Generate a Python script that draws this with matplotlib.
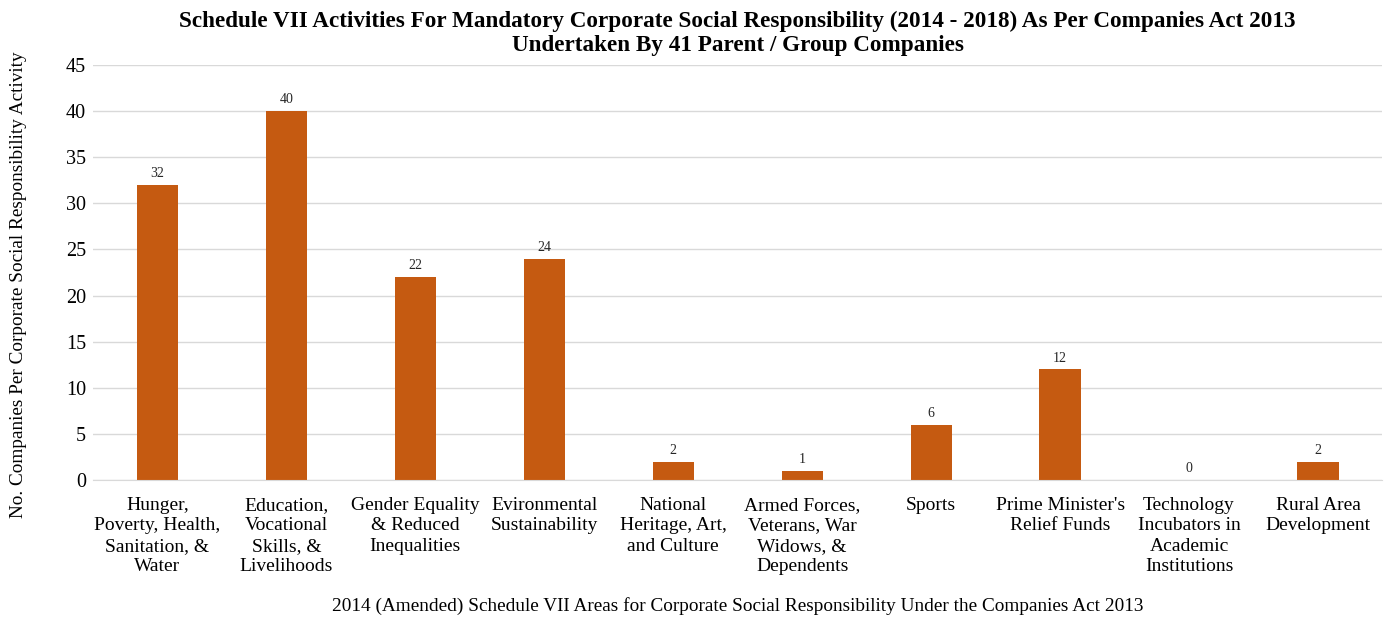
import matplotlib.pyplot as plt

# Schedule VII areas and the number of companies per activity
categories = [
    "Hunger,\nPoverty, Health,\nSanitation, &\nWater",
    "Education,\nVocational\nSkills, &\nLivelihoods",
    "Gender Equality\n& Reduced\nInequalities",
    "Evironmental\nSustainability",
    "National\nHeritage, Art,\nand Culture",
    "Armed Forces,\nVeterans, War\nWidows, &\nDependents",
    "Sports",
    "Prime Minister's\nRelief Funds",
    "Technology\nIncubators in\nAcademic\nInstitutions",
    "Rural Area\nDevelopment",
]
counts = [32, 40, 22, 24, 2, 1, 6, 12, 0, 2]
yticks = list(range(0, 50, 5))

plt.rcParams['font.family'] = ['Liberation Serif', 'DejaVu Serif']

fig = plt.figure(figsize=(13.88, 6.19), dpi=100)
ax = fig.add_axes([0.067, 0.2246, 0.929, 0.6704])

x = list(range(len(categories)))
ax.bar(x, counts, width=0.32, color='#C55A11', zorder=3)

# value labels above bars
for xi, v in zip(x, counts):
    ax.text(xi, v + 0.5, str(v), ha='center', va='bottom', fontsize=10, color='#262626')

ax.set_xlim(-0.5, len(categories) - 0.5)
ax.set_ylim(0, 45)
ax.set_yticks(yticks)
ax.set_xticks(x)
ax.set_xticklabels(categories, fontsize=14, linespacing=1.27)
ax.tick_params(axis='y', labelsize=14.5, length=0, pad=5)
ax.tick_params(axis='x', length=0, pad=12)
ax.yaxis.grid(True, color='#d9d9d9', linewidth=1, zorder=0)

for s in ['top', 'right', 'left']:
    ax.spines[s].set_visible(False)
ax.spines['bottom'].set_color('#d9d9d9')
ax.spines['bottom'].set_zorder(4)

ax.set_ylabel('No. Companies Per Corporate Social Responsibility Activity', fontsize=13.9, va='center')
ax.yaxis.set_label_coords(-0.058, 0.47)
ax.set_xlabel('2014 (Amended) Schedule VII Areas for Corporate Social Responsibility Under the Companies Act 2013',
              fontsize=13.9, va='center')
ax.xaxis.set_label_coords(0.5, -0.304)
ax.set_title('Schedule VII Activities For Mandatory Corporate Social Responsibility (2014 - 2018) As Per Companies Act 2013\n'
             'Undertaken By 41 Parent / Group Companies', fontsize=16.7, fontweight='bold', pad=10, linespacing=1.2)

fig.savefig('out.png', dpi=100)
